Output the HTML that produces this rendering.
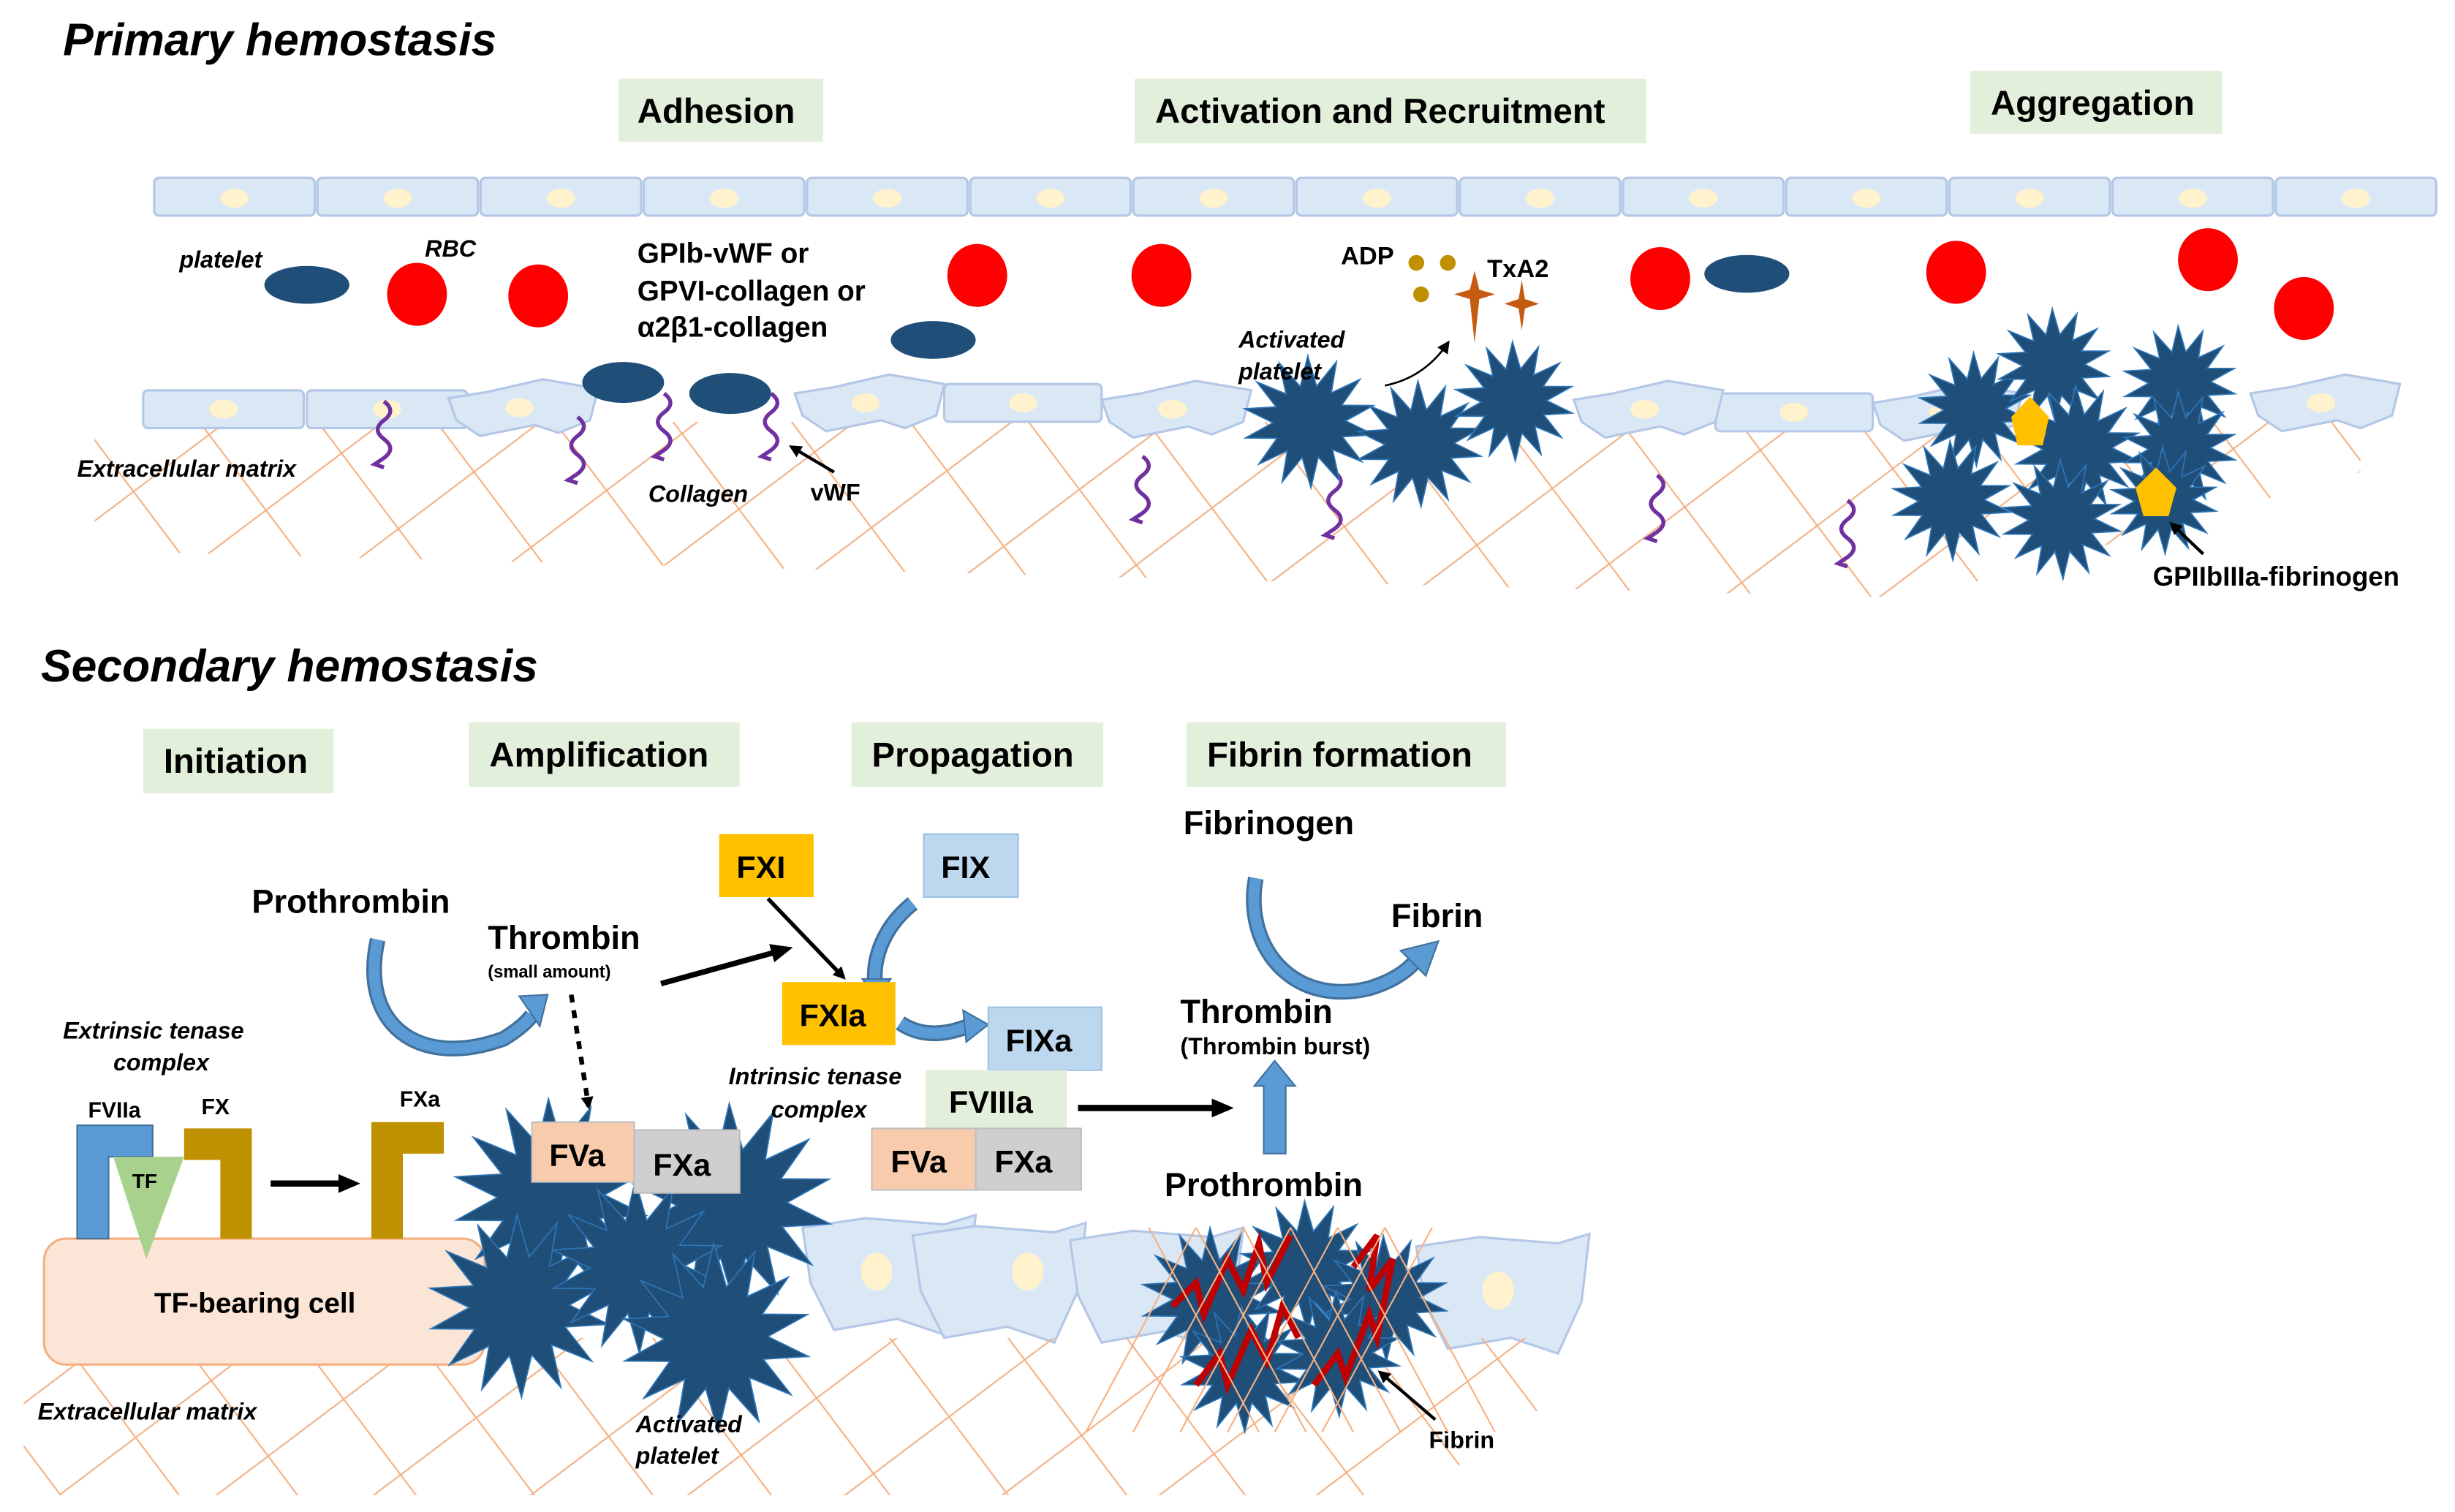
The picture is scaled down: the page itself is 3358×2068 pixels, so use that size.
<!DOCTYPE html>
<html><head><meta charset="utf-8"><style>
html,body{margin:0;padding:0;background:#fff;}
svg{display:block;}
text{font-family:"Liberation Sans",Arial,sans-serif;font-weight:bold;fill:#000;}
.it{font-style:italic;}
.lb{fill:#e2efda;}
.cell{fill:#dae8f5;stroke:#b4c7e7;stroke-width:1.5;}
.nuc{fill:#fff2cc;}
.ecm{stroke:#f4b183;stroke-width:1;}
.col{fill:none;stroke:#7030a0;stroke-width:2.5;}
</style></head><body>
<svg id="s" width="3358" height="2068" viewBox="0 0 1560 960.7" preserveAspectRatio="none" xmlns="http://www.w3.org/2000/svg">
<defs>
<marker id="ah" markerWidth="8" markerHeight="8" refX="6" refY="4" orient="auto" markerUnits="userSpaceOnUse"><path d="M0,0 L8,4 L0,8 z" fill="#000"/></marker>
<marker id="ah2" markerWidth="14" markerHeight="12" refX="10" refY="6" orient="auto" markerUnits="userSpaceOnUse"><path d="M0,0 L14,6 L0,12 z" fill="#000"/></marker>
<clipPath id="c1"><polygon points="60,268 1500,268 1500,300 1220,380 60,350"/></clipPath>
<clipPath id="c2"><polygon points="15,850 1000,850 1000,880 900,950 15,950"/></clipPath>
<pattern id="hp" width="85" height="85" patternUnits="userSpaceOnUse" patternTransform="rotate(8)">
<line x1="0" y1="0" x2="85" y2="85" class="ecm"/><line x1="85" y1="0" x2="0" y2="85" class="ecm"/></pattern>
</defs>
<g id="bg"></g>
<rect x="60" y="268" width="1440" height="115" fill="url(#hp)" clip-path="url(#c1)"/>
<rect x="15" y="840" width="990" height="115" fill="url(#hp)" clip-path="url(#c2)"/>

<text x="40" y="35" class="it" font-size="29">Primary hemostasis</text>
<rect class="lb" x="393" y="50" width="130" height="40"/><text x="405" y="78" font-size="22">Adhesion</text>
<rect class="lb" x="721" y="50" width="325" height="41"/><text x="734" y="78" font-size="22">Activation and Recruitment</text>
<rect class="lb" x="1252" y="45" width="160" height="40"/><text x="1265" y="73" font-size="22">Aggregation</text>

<g id="top"></g>
<g id="bot"></g>

<g fill="#1f4e79">
<ellipse cx="195" cy="181" rx="27" ry="12"/><ellipse cx="593" cy="216" rx="27" ry="12"/>
<ellipse cx="396" cy="243" rx="26" ry="13"/><ellipse cx="464" cy="250" rx="26" ry="13"/>
<ellipse cx="1110" cy="174" rx="27" ry="12"/></g>
<g fill="#ff0000">
<ellipse cx="265" cy="187" rx="19" ry="20"/><ellipse cx="342" cy="188" rx="19" ry="20"/>
<ellipse cx="621" cy="175" rx="19" ry="20"/><ellipse cx="738" cy="175" rx="19" ry="20"/>
<ellipse cx="1055" cy="177" rx="19" ry="20"/><ellipse cx="1243" cy="173" rx="19" ry="20"/>
<ellipse cx="1403" cy="165" rx="19" ry="20"/><ellipse cx="1464" cy="196" rx="19" ry="20"/></g>

<g id="col"></g>
<g id="stars"></g>

<polygon points="1290,252 1302,265 1298,283 1282,283 1278,265" fill="#ffc000"/>
<polygon points="1370,297 1383,310 1378,328 1362,328 1357,310" fill="#ffc000"/>
<g fill="#bf9000"><circle cx="900" cy="167" r="5"/><circle cx="920" cy="167" r="5"/><circle cx="903" cy="187" r="5"/></g>
<g fill="#c55a11">
<path d="M937,172 L940,184 L950,187 L940,190 L937,218 L934,190 L924,187 L934,184z"/>
<path d="M967,178 L969,190 L978,193 L969,196 L967,210 L965,196 L956,193 L965,190z"/>
</g>
<path d="M880,245 Q905,240 920,218" fill="none" stroke="#000" stroke-width="1.2" marker-end="url(#ah)"/>
<line x1="530" y1="300" x2="503" y2="284" stroke="#000" stroke-width="2" marker-end="url(#ah)"/>
<line x1="1400" y1="352" x2="1380" y2="333" stroke="#000" stroke-width="2" marker-end="url(#ah)"/>

<text x="114" y="170" class="it" font-size="15">platelet</text>
<text x="270" y="163" class="it" font-size="15">RBC</text>
<text x="405" y="167" font-size="18">GPIb-vWF or</text>
<text x="405" y="191" font-size="18">GPVI-collagen or</text>
<text x="405" y="214" font-size="18">α2β1-collagen</text>
<text x="49" y="303" class="it" font-size="15">Extracellular matrix</text>
<text x="412" y="319" class="it" font-size="15">Collagen</text>
<text x="515" y="318" font-size="15">vWF</text>
<text x="852" y="168" font-size="16">ADP</text>
<text x="945" y="176" font-size="16">TxA2</text>
<text x="787" y="221" class="it" font-size="15">Activated</text>
<text x="787" y="241" class="it" font-size="15">platelet</text>
<text x="1368" y="372" font-size="17">GPIIbIIIa-fibrinogen</text>

<!-- Secondary -->
<text x="26" y="433" class="it" font-size="29">Secondary hemostasis</text>
<rect class="lb" x="91" y="463" width="121" height="41"/><text x="104" y="491" font-size="22">Initiation</text>
<rect class="lb" x="298" y="459" width="172" height="41"/><text x="311" y="487" font-size="22">Amplification</text>
<rect class="lb" x="541" y="459" width="160" height="41"/><text x="554" y="487" font-size="22">Propagation</text>
<rect class="lb" x="754" y="459" width="203" height="41"/><text x="767" y="487" font-size="22">Fibrin formation</text>

<rect x="28" y="787" width="280" height="80" rx="14" fill="#fbe5d6" stroke="#f4b183" stroke-width="1.5"/>
<text x="98" y="834" font-size="18">TF-bearing cell</text>
<path d="M49,715 H97 V735 H69 V787 H49z" fill="#5b9bd5" stroke="#41719c"/>
<path d="M117,717 H160 V787 H140 V737 H117z" fill="#bf9000"/>
<path d="M236,713 H282 V733 H256 V787 H236z" fill="#bf9000"/>
<polygon points="72,735 117,735 93,800" fill="#a9d18e"/>
<text x="84" y="755" font-size="13">TF</text>
<line x1="172" y1="752" x2="225" y2="752" stroke="#000" stroke-width="4" marker-end="url(#ah2)"/>
<text x="40" y="660" class="it" font-size="15">Extrinsic tenase</text>
<text x="72" y="680" class="it" font-size="15">complex</text>
<text x="56" y="710" font-size="14">FVIIa</text>
<text x="128" y="708" font-size="14">FX</text>
<text x="254" y="703" font-size="14">FXa</text>

<g id="sec"></g>

<text x="160" y="580" font-size="21">Prothrombin</text>
<text x="310" y="603" font-size="21">Thrombin</text>
<text x="310" y="621" font-size="11">(small amount)</text>
<line x1="363" y1="632" x2="374" y2="703" stroke="#000" stroke-width="3" stroke-dasharray="5,5" marker-end="url(#ah)"/>
<line x1="420" y1="625" x2="500" y2="603" stroke="#000" stroke-width="3.5" marker-end="url(#ah2)"/>
<line x1="488" y1="571" x2="536" y2="621" stroke="#000" stroke-width="2.5" marker-end="url(#ah)"/>

<rect x="457" y="530" width="60" height="40" fill="#ffc000"/><text x="468" y="558" font-size="20">FXI</text>
<rect x="587" y="530" width="60" height="40" fill="#bdd7ee" stroke="#9dc3e6"/><text x="598" y="558" font-size="20">FIX</text>
<rect x="497" y="624" width="72" height="40" fill="#ffc000"/><text x="508" y="652" font-size="20">FXIa</text>
<rect x="628" y="640" width="72" height="40" fill="#bdd7ee" stroke="#9dc3e6"/><text x="639" y="668" font-size="20">FIXa</text>
<text x="463" y="689" class="it" font-size="15">Intrinsic tenase</text>
<text x="490" y="710" class="it" font-size="15">complex</text>
<rect x="588" y="680" width="90" height="37" fill="#e2efda"/><text x="603" y="707" font-size="20">FVIIIa</text>
<rect x="554" y="717" width="67" height="39" fill="#f8cbad" stroke="#bfbfbf"/><text x="566" y="745" font-size="20">FVa</text>
<rect x="620" y="717" width="67" height="39" fill="#d0cece" stroke="#bfbfbf"/><text x="632" y="745" font-size="20">FXa</text>
<line x1="685" y1="704" x2="780" y2="704" stroke="#000" stroke-width="4" marker-end="url(#ah2)"/>

<text x="752" y="530" font-size="21">Fibrinogen</text>
<text x="884" y="589" font-size="21">Fibrin</text>
<text x="750" y="650" font-size="21">Thrombin</text>
<text x="750" y="670" font-size="15">(Thrombin burst)</text>
<path d="M803,733 V690 H797 L810,674 L823,690 H817 V733z" fill="#5b9bd5" stroke="#41719c"/>
<text x="740" y="760" font-size="21">Prothrombin</text>
<text x="908" y="920" font-size="15">Fibrin</text>
<line x1="912" y1="902" x2="877" y2="872" stroke="#000" stroke-width="2" marker-end="url(#ah)"/>
<text x="24" y="902" class="it" font-size="15">Extracellular matrix</text>
<text x="404" y="910" class="it" font-size="15">Activated</text>
<text x="404" y="930" class="it" font-size="15">platelet</text>

<g id="fg"></g>
</svg>
<script>
var NS="http://www.w3.org/2000/svg";
function el(p,t,a){var e=document.createElementNS(NS,t);for(var k in a)e.setAttribute(k,a[k]);document.getElementById(p).appendChild(e);return e;}
for(var i=0;i<14;i++){var x=98+i*103.7;el("top","rect",{x:x,y:113,width:102,height:24,rx:3,"class":"cell"});el("top","ellipse",{cx:x+51,cy:126,rx:9,ry:6,"class":"nuc"});}
var bc=[[91,248,102],[195,248,102],[600,244,100],[1090,250,100]];
bc.forEach(function(c){el("bot","rect",{x:c[0],y:c[1],width:c[2],height:24,rx:3,"class":"cell"});el("bot","ellipse",{cx:c[0]+c[2]/2,cy:c[1]+12,rx:9,ry:6,"class":"nuc"});});
var dc=[[285,245],[505,242],[700,246],[1000,246],[1190,248],[1430,242]];
dc.forEach(function(c){var x=c[0],y=c[1];el("bot","path",{d:"M"+x+","+(y+8)+" L"+(x+25)+","+(y+4)+" L"+(x+60)+","+(y-4)+" L"+(x+95)+","+(y+2)+" L"+(x+90)+","+(y+22)+" L"+(x+70)+","+(y+30)+" L"+(x+55)+","+(y+25)+" L"+(x+20)+","+(y+32)+" L"+(x+5)+","+(y+22)+"z","class":"cell"});el("bot","ellipse",{cx:x+45,cy:y+14,rx:9,ry:6,"class":"nuc"});});
var lc=[[510,770],[580,775],[680,778],[900,782]];
lc.forEach(function(c,i){var x=c[0],y=c[1];el("bg","path",{d:"M"+x+","+(y+10)+" L"+(x+40)+","+(y+4)+" L"+(x+90)+","+(y+8)+" L"+(x+110)+","+(y+2)+" L"+(x+105)+","+(y+45)+" L"+(x+90)+","+(y+78)+" L"+(x+60)+","+(y+68)+" L"+(x+20)+","+(y+75)+" L"+(x+5)+","+(y+45)+"z","class":"cell"});});
[[557,808],[653,808],[952,820]].forEach(function(c){el("bg","ellipse",{cx:c[0],cy:c[1],rx:10,ry:12,"class":"nuc"});});
[[244,255],[367,265],[422,250],[490,250],[726,290],[848,300],[1053,302],[1174,318]].forEach(function(c){var x=c[0],y=c[1];
el("col","path",{d:"M"+x+","+y+" q8,6 0,12 q-8,6 0,12 q8,6 0,12 l-6,4 l6,2","class":"col"});});
function star(p,cx,cy,r,n,fill){var pts=[];for(var i=0;i<n*2;i++){var a=i*Math.PI/n+0.2;var rr=i%2?r*0.55:r;pts.push((cx+rr*Math.cos(a)).toFixed(1)+","+(cy+rr*Math.sin(a)).toFixed(1));}
el(p,"polygon",{points:pts.join(" "),fill:fill||"#1f4e79",stroke:"#2e75b6","stroke-width":0.8});}
[[832,268,42],[902,282,40],[962,255,38],[1255,260,36],[1305,232,36],[1385,243,36],[1320,285,40],[1385,285,36],[1240,318,38],[1310,330,38],[1375,318,34]].forEach(function(s){star("stars",s[0],s[1],s[2],14);});
[[350,760,62],[465,765,64],[330,830,58],[405,805,55],[455,850,60]].forEach(function(s){star("sec",s[0],s[1],s[2],14);});
[[770,825,45],[830,805,42],[880,825,40],[790,870,40],[850,860,40]].forEach(function(s){star("fg",s[0],s[1],s[2],14);});
[["M745,830 L760,815 L765,835 L780,800 L790,820 L800,790 L805,815 L820,785"],["M760,880 L775,860 L780,880 L795,845 L805,865 L815,830 L825,850"],["M835,880 L850,860 L855,875 L870,835 L875,850 L885,800 L870,820 L875,785 L860,805"]].forEach(function(d){el("fg","path",{d:d[0],fill:"none",stroke:"#c00000","stroke-width":4});});
for(var k=0;k<6;k++){el("fg","line",{x1:730+k*30,y1:780,x2:800+k*30,y2:910,"class":"ecm"});el("fg","line",{x1:910-k*30,y1:780,x2:840-k*30,y2:910,"class":"ecm"});}
el("sec","rect",{x:338,y:713,width:65,height:38,fill:"#f8cbad",stroke:"#bfbfbf"});
el("sec","rect",{x:403,y:718,width:67,height:40,fill:"#d0cece",stroke:"#bfbfbf"});
var t1=el("sec","text",{x:349,y:741,"font-size":20});t1.textContent="FVa";
var t2=el("sec","text",{x:415,y:747,"font-size":20});t2.textContent="FXa";
function carrow(d,head){el("sec","path",{d:d,fill:"none",stroke:"#41719c","stroke-width":10,"stroke-linecap":"butt"});el("sec","path",{d:d,fill:"none",stroke:"#5b9bd5","stroke-width":7});el("sec","polygon",{points:head,fill:"#5b9bd5",stroke:"#41719c"});}
carrow("M240,597 C228,650 265,680 320,660 Q333,652 338,645","330,633 348,632 343,652");
carrow("M580,574 C560,590 555,610 556,624","548,622 566,622 557,634");
carrow("M572,650 Q590,662 615,652","612,642 628,651 614,662");
carrow("M798,558 C790,600 820,640 870,628 Q890,622 900,610","890,604 914,598 906,620");
</script>
</body></html>
